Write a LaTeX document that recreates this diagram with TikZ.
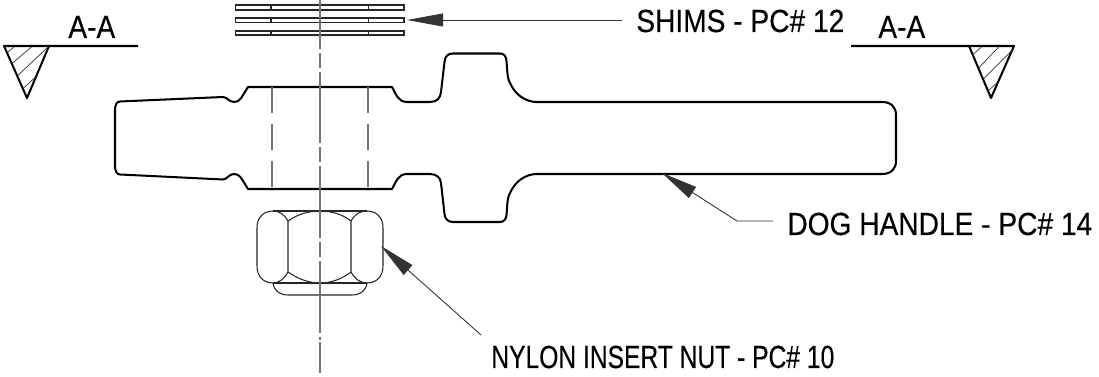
\documentclass[tikz,border=0pt]{standalone}
\usepackage{fontspec}
\setmainfont[FakeStretch=0.77,FakeBold=0.3]{Liberation Sans}
\newfontfamily\widelabel[FakeStretch=0.88,FakeBold=0.3]{Liberation Sans}
\usetikzlibrary{arrows.meta}
\tikzset{
  heavy/.style={line width=1.15pt,line join=round},
  light/.style={line width=0.6pt,black!85},
  hatch/.style={line width=0.4pt,black!80},
  centreline/.style={line width=0.8pt,black!55,dash pattern=on 72*0.567pt off 4*0.567pt on 15*0.567pt off 4*0.567pt,dash phase=23*0.567pt},
  hidden/.style={line width=0.8pt,black!55,dash pattern=on 26*0.567pt off 11*0.567pt},
  leader/.style={line width=0.5pt,black!80},
  pointer/.style={{Triangle[length=20.6pt,width=7.4pt]}-},
  callout/.style={anchor=base west,inner sep=0pt,font=\fontsize{18.2pt}{20pt}\selectfont},
  widecallout/.style={callout,font=\fontsize{18.2pt}{20pt}\widelabel},
}
\begin{document}
\begin{tikzpicture}[x=0.02cm,y=-0.02cm]
\useasboundingbox (0,0) rectangle (1099,377);
% labels
\path (68,38) node (aleft) [widecallout] {A-A};
\path (878,38) node (aright) [widecallout] {A-A};
\path (636,32) node (shimslabel) [widecallout] {SHIMS - PC\# 12};
\path (787,235) node (doglabel) [widecallout] {DOG HANDLE - PC\# 14};
\path (491,368) node (nutlabel) [callout] {NYLON INSERT NUT - PC\# 10};

% section marks
\draw [heavy] (138,46) -- (4,46) -- (27,98) -- (49,46);
\draw [hatch] (14.3,46.7) -- (7.3,52.7) (31.7,46.7) -- (12.3,63.3) (46.7,48.3) -- (18.3,75) (36,76.7) -- (23.3,88.3);
\draw [heavy] (851,46) -- (1014,46) -- (991,98) -- (969,46);
\draw [hatch] (981.7,46.7) -- (973.3,54.3) (999,46.7) -- (978.3,68.3) (1013,49.3) -- (983.3,79) (998.3,81.7) -- (989,90);

% shims
\foreach \ytop/\ybot in {5/10,18/22.5,31/35} {
  \draw [light] (235.5,\ytop) rectangle (404,\ybot);
  \draw [light] (271,\ytop) -- (271,\ybot) (368.5,\ytop) -- (368.5,\ybot);
}

% dog handle
\draw [heavy] (120,101.5) -- (223,97)
  .. controls (227,97) and (229,102) .. (234,102)
  .. controls (240,102) and (241,98) .. (248,87)
  -- (392,87)
  .. controls (396,94) and (398,102) .. (407,102)
  -- (430,102)
  .. controls (437,102) and (440.5,98) .. (441,92)
  -- (444.5,62)
  .. controls (445,56) and (448,53.5) .. (453,53.5)
  -- (500,53.5)
  .. controls (504,53.5) and (506,56) .. (506.5,61)
  .. controls (507.5,72) and (507,79) .. (511,85)
  .. controls (516,95) and (525,101) .. (535,102)
  -- (882,102)
  .. controls (891,102) and (896,107) .. (896,115)
  -- (896,161)
  .. controls (896,169) and (891,174) .. (882,174)
  -- (535,174)
  .. controls (525,175) and (516,181) .. (511,191)
  .. controls (507,197) and (507.5,204) .. (506.5,215)
  .. controls (506,219) and (504,222) .. (500,222)
  -- (453,222)
  .. controls (448,222) and (445,219) .. (444.5,214)
  -- (441,183)
  .. controls (440.5,178) and (437,174) .. (430,174)
  -- (407,174)
  .. controls (398,174) and (396,182) .. (392,189)
  -- (248,189)
  .. controls (241,178) and (240,174) .. (234,174)
  .. controls (229,174) and (227,179.5) .. (223,179.5)
  -- (120,174.5)
  .. controls (117,174.5) and (115,171) .. (115,168)
  -- (115,108)
  .. controls (115,105) and (117,101.5) .. (120,101.5) -- cycle;
\draw [hidden] (272,87) -- (272,189);
\draw [hidden] (368,87) -- (368,189);

% nut
\draw [light] (273,211) -- (367,211) (273,283) -- (367,283);
\draw [light] (288,221) .. controls (284,214) and (279,211) .. (273,211)
  .. controls (263,211) and (257,218) .. (257,228) -- (257,266)
  .. controls (257,276) and (263,283) .. (273,283)
  .. controls (279,283) and (284,279) .. (288,272) -- cycle;
\draw [light] (351,221) .. controls (355,214) and (360,211) .. (367,211)
  .. controls (377,211) and (383,218) .. (383,228) -- (383,266)
  .. controls (383,276) and (377,283) .. (367,283)
  .. controls (360,283) and (355,279) .. (351,272) -- cycle;
\draw [light] (288,221) .. controls (298,214) and (309,211) .. (320,211)
  .. controls (331,211) and (342,214) .. (351,221);
\draw [light] (288,272) .. controls (298,279) and (309,283) .. (320,283)
  .. controls (331,283) and (342,279) .. (351,272);
\draw [light] (273,283) .. controls (274,291) and (280,295) .. (288,295)
  -- (352,295) .. controls (360,295) and (366,291) .. (367,283);

% centre line
\draw [centreline] (320,0) -- (320,340);
\draw [centreline,dash pattern=] (320,342) -- (320,373);

% leaders
\coordinate (shimstip) at (407,20);
\coordinate (shimsend) at (622,20);
\coordinate (dogtip) at (662,173);
\coordinate (dogbend) at (737,221);
\coordinate (dogend) at (773,221);
\coordinate (nuttip) at (381,246);
\coordinate (nutend) at (481,335);
\draw [leader,pointer] (shimstip) to (shimsend);
\draw [leader,pointer] (dogtip) -- (dogbend) -- (dogend);
\draw [leader,pointer] (nuttip) to (nutend);
\end{tikzpicture}
\end{document}
